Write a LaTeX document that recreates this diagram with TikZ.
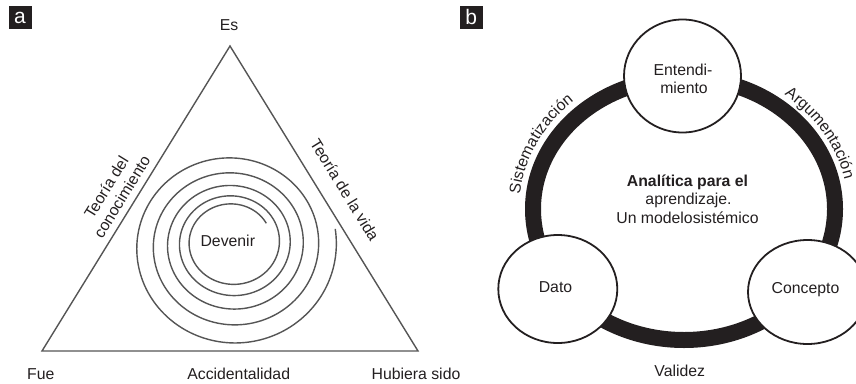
\documentclass[tikz,border=0pt]{standalone}
\usepackage{fontspec}
\setmainfont{Liberation Sans}
\usetikzlibrary{decorations.text,shapes.geometric}
\definecolor{ink}{HTML}{231F20}
\definecolor{lineg}{HTML}{555555}
\newcommand\lblfont{\fontsize{15.8}{18.3}\selectfont}
\begin{document}
\begin{tikzpicture}[x=1pt,y=1pt,
  lbl/.style={font=\lblfont, text=ink, inner sep=0},
  panel/.style={fill=ink, text=white, minimum size=23, inner sep=0, font=\fontsize{21}{21}\selectfont},
  bub/.style={ellipse, draw=ink, fill=white, line width=1.8, inner sep=0},
  tri/.style={draw=lineg, line width=1.4, line join=miter},
  spir/.style={draw=lineg, line width=1.4},
  ring/.style={draw=ink, line width=16}]
\useasboundingbox (0,0) rectangle (856,-383);

% ---------- panel a ----------
\node[panel] (pa) at (20,-17.5) {a};
\coordinate (A) at (230,-46);
\coordinate (B) at (42,-351);
\coordinate (C) at (418,-351);
\draw[tri] (A) -- (C) -- (B) -- cycle;

\draw[spir] plot[domain=30:1810, samples=900]
  ({232 + (37.45 + 7.32*\x/360 + 1.15*(\x/360)^2 + 1.5)*cos(\x)},
   {-(241.5 + \x/360) + (37.45 + 7.32*\x/360 + 1.15*(\x/360)^2 - 1.5)*sin(\x)});

\node[lbl, anchor=base] (es) at (229,-30.7) {Es};
\node[lbl, anchor=base] (fue) at (40.8,-379.3) {Fue};
\node[lbl, anchor=base] (acc) at (238.7,-379.3) {Accidentalidad};
\node[lbl, anchor=base] (hub) at (416,-379.3) {Hubiera sido};
\node[lbl, anchor=base] (dev) at (227.8,-246.7) {Devenir};
\node[lbl, align=center, rotate=58.35] (tc) at (114,-192) {Teoría del\\conocimiento};
\node[lbl, rotate=-58.35] (tv) at (345,-190) {Teoría de la vida};

% ---------- panel b ----------
\node[panel] (pb) at (471.3,-17.3) {b};
\draw[ring] (684,-209) ellipse [x radius=151, y radius=131];

\node[bub, minimum width=117, minimum height=113] (ent) at (682.5,-76) {};
\node[bub, minimum width=119, minimum height=108] (dat) at (557.8,-289) {};
\node[bub, minimum width=119, minimum height=104] (con) at (807.5,-292) {};

\node[lbl, anchor=base] (ent1) at (683,-75) {Entendi-};
\node[lbl, anchor=base] (ent2) at (684,-93.3) {miento};
\node[lbl, anchor=base] (datt) at (555.5,-292.7) {Dato};
\node[lbl, anchor=base] (cont) at (805.5,-293) {Concepto};
\node[lbl, anchor=base] (val) at (679.7,-376.7) {Validez};

\node[lbl, anchor=base, font=\lblfont\bfseries] (c1) at (687.5,-186.7) {Analítica para el};
\node[lbl, anchor=base] (c2) at (688.5,-204.5) {aprendizaje.};
\node[lbl, anchor=base] (c3) at (687.5,-223.3) {Un modelosistémico};

\path[decorate, decoration={text along path, text align=center,
  text={|\lblfont\color{ink}|Sistematización}}]
  (684,-209) ++(175:165 and 145) arc[start angle=175, end angle=131, x radius=165, y radius=145];
\path[decorate, decoration={text along path, text align=center,
  text={|\lblfont\color{ink}|Argumentación}}]
  (684,-209) ++(54:164 and 144) arc[start angle=54, end angle=10, x radius=164, y radius=144];
\end{tikzpicture}
\end{document}
